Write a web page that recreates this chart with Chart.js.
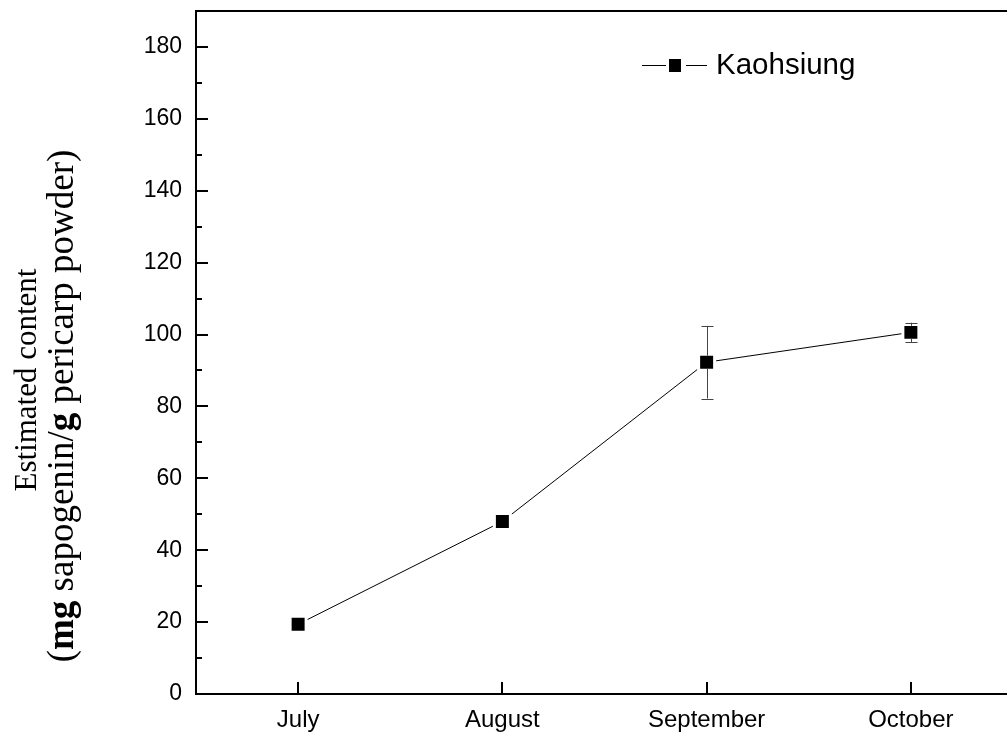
<!DOCTYPE html>
<html>
<head>
<meta charset="utf-8">
<title>Estimated content by month</title>
<script src="https://cdn.jsdelivr.net/npm/chart.js@4.4.1/dist/chart.umd.min.js"></script>
<style>
  html, body { margin: 0; padding: 0; background: #fff; overflow: hidden; }
  #wrap { width: 1014px; height: 737px; }
</style>
</head>
<body>
<div id="wrap"><canvas id="c" width="1014" height="737"></canvas></div>
<script>
// Months sampled
const months = ['July', 'August', 'September', 'October'];
// Mean estimated content (mg sapogenin / g pericarp powder)
const kaohsiung = [19.4, 48.0, 92.3, 100.6];
// Standard deviation for each month
const kaohsiungErr = [0.8, 1.0, 10.1, 2.7];
const seriesName = 'Kaohsiung';
// Y axis labelled ticks and unlabelled minor ticks
const yTicks = [0, 20, 40, 60, 80, 100, 120, 140, 160, 180];
const yMinorTicks = [10, 30, 50, 70, 90, 110, 130, 150, 170];
const yMin = 0, yMax = 190;
// Two-line axis title; second line mixes bold units into regular text
const yTitleLine1 = 'Estimated content';
const yTitleLine2 = [['(', false], ['mg', true], [' sapogenin/', false], ['g', true], [' pericarp powder)', false]];

const SANS = '"Liberation Sans", Arial, Helvetica, sans-serif';
const SERIF = '"Liberation Serif", "Times New Roman", serif';
const MARK = 13; // marker side in px

const framePlugin = {
  id: 'frame',
  afterDatasetsDraw(chart) {
    const ctx = chart.ctx;
    const ys = chart.scales.y;
    const meta = chart.getDatasetMeta(0);
    // error bars
    ctx.save();
    ctx.strokeStyle = '#444';
    ctx.lineWidth = 1;
    meta.data.forEach((pt, i) => {
      const v = kaohsiung[i], e = kaohsiungErr[i];
      const yt = ys.getPixelForValue(v + e);
      const yb = ys.getPixelForValue(v - e);
      const x = Math.round(pt.x) + 0.5;
      if (pt.y - yt <= MARK / 2) return;
      ctx.beginPath();
      ctx.moveTo(x, pt.y - MARK / 2); ctx.lineTo(x, yt);
      ctx.moveTo(x, pt.y + MARK / 2); ctx.lineTo(x, yb);
      ctx.moveTo(x - 6, Math.round(yt) + 0.5); ctx.lineTo(x + 6, Math.round(yt) + 0.5);
      ctx.moveTo(x - 6, Math.round(yb) + 0.5); ctx.lineTo(x + 6, Math.round(yb) + 0.5);
      ctx.stroke();
    });
    ctx.restore();
  },
  afterDraw(chart) {
    const ctx = chart.ctx;
    const a = chart.chartArea;
    const xs = chart.scales.x, ys = chart.scales.y;
    ctx.save();
    ctx.strokeStyle = '#000';
    ctx.lineWidth = 2;
    // top and right frame lines
    ctx.beginPath();
    ctx.moveTo(a.left - 1, a.top); ctx.lineTo(a.right, a.top);
    ctx.moveTo(a.right, a.top); ctx.lineTo(a.right, a.bottom);
    ctx.stroke();
    // inward ticks on y axis
    ctx.beginPath();
    yTicks.forEach(v => {
      const y = Math.round(ys.getPixelForValue(v));
      ctx.moveTo(a.left, y); ctx.lineTo(a.left + 12, y);
    });
    yMinorTicks.forEach(v => {
      const y = Math.round(ys.getPixelForValue(v));
      ctx.moveTo(a.left, y); ctx.lineTo(a.left + 6, y);
    });
    // inward ticks on x axis
    months.forEach((m, i) => {
      const x = Math.round(xs.getPixelForValue(i));
      ctx.moveTo(x, a.bottom); ctx.lineTo(x, a.bottom - 12);
    });
    ctx.stroke();

    // legend: line - marker - line, then the series name
    const ly = 65;
    ctx.lineWidth = 1;
    ctx.beginPath();
    ctx.moveTo(642, ly + 0.5); ctx.lineTo(666, ly + 0.5);
    ctx.moveTo(686, ly + 0.5); ctx.lineTo(707, ly + 0.5);
    ctx.stroke();
    ctx.fillStyle = '#000';
    ctx.fillRect(669, ly - 6, 12, 13);
    ctx.font = '29.5px ' + SANS;
    ctx.textAlign = 'left';
    ctx.textBaseline = 'middle';
    ctx.fillText(chart.data.datasets[0].label, 716, ly + 1);

    // y axis title, rotated
    ctx.save();
    ctx.translate(28, 380);
    ctx.rotate(-Math.PI / 2);
    ctx.font = '31px ' + SERIF;
    ctx.textAlign = 'center';
    ctx.textBaseline = 'middle';
    ctx.fillText(yTitleLine1, 0, 0);
    ctx.restore();

    ctx.save();
    ctx.translate(63, 406);
    ctx.rotate(-Math.PI / 2);
    ctx.textBaseline = 'middle';
    ctx.textAlign = 'left';
    const fontOf = b => (b ? 'bold ' : '') + '37px ' + SERIF;
    let total = 0;
    yTitleLine2.forEach(([t, b]) => { ctx.font = fontOf(b); total += ctx.measureText(t).width; });
    let x = -total / 2;
    yTitleLine2.forEach(([t, b]) => {
      ctx.font = fontOf(b);
      ctx.fillText(t, x, 0);
      x += ctx.measureText(t).width;
    });
    ctx.restore();
    ctx.restore();
  }
};

new Chart(document.getElementById('c'), {
  type: 'line',
  data: {
    labels: months,
    datasets: [{
      label: seriesName,
      data: kaohsiung,
      borderColor: '#000',
      borderWidth: 1,
      backgroundColor: '#000',
      pointStyle: 'rect',
      pointRadius: 11.3,
      pointBorderWidth: 3,
      pointBorderColor: '#fff',
      pointBackgroundColor: '#000',
      tension: 0,
      fill: false
    }]
  },
  options: {
    responsive: false,
    animation: false,
    layout: { autoPadding: false, padding: { top: 11, right: 1, left: 0, bottom: 0 } },
    plugins: { legend: { display: false }, tooltip: { enabled: false } },
    scales: {
      x: {
        type: 'category',
        offset: true,
        grid: { display: false, drawTicks: false },
        border: { display: true, color: '#000', width: 2 },
        ticks: { color: '#000', font: { family: SANS, size: 24 }, padding: 12, maxRotation: 0 },
        afterFit(s) { s.height = 43; s.paddingLeft = 0; s.paddingRight = 0; }
      },
      y: {
        min: yMin,
        max: yMax,
        grid: { display: false, drawTicks: false },
        border: { display: true, color: '#000', width: 2 },
        ticks: { color: '#000', font: { family: SANS, size: 23, lineHeight: 0.95 }, padding: 14 },
        afterBuildTicks(s) { s.ticks = yTicks.map(v => ({ value: v })); },
        afterFit(s) { s.width = 196; s.paddingTop = 0; s.paddingBottom = 0; }
      }
    }
  },
  plugins: [framePlugin]
});
</script>
</body>
</html>
